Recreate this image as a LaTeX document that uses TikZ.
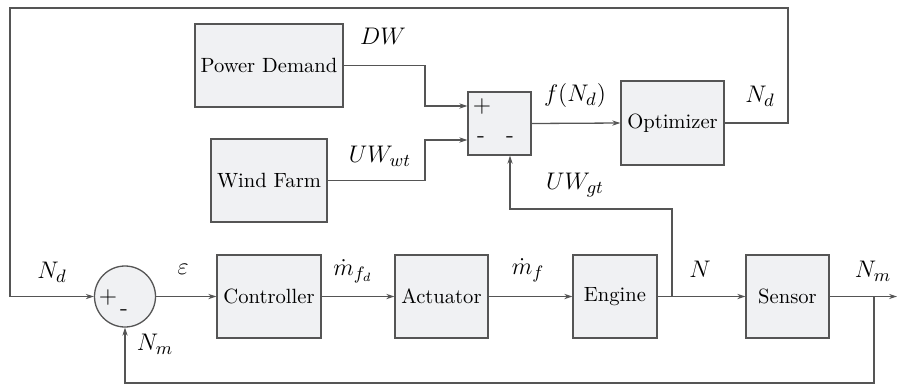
\documentclass[tikz,border=0pt]{standalone}
\usetikzlibrary{arrows.meta}
\definecolor{boxfill}{HTML}{F0F1F3}
\definecolor{linec}{HTML}{555555}
\begin{document}
\begin{tikzpicture}[x=0.5pt,y=-0.5pt,
  blk/.style={draw=linec,fill=boxfill,line width=0.65pt,inner sep=0pt,minimum height=41.5pt,font=\fontsize{10.3}{12}\selectfont},
  sumc/.style={draw=linec,fill=boxfill,line width=0.65pt,circle,inner sep=0pt,minimum size=30.5pt},
  wire/.style={draw=linec,line width=0.65pt},
  arr/.style={wire,-{Stealth[length=4pt,width=2.6pt]}},
  lbl/.style={inner sep=0pt,font=\fontsize{12.5}{14}\selectfont},
  sgn/.style={inner sep=0pt,font=\fontsize{12}{14}\selectfont}]
\useasboundingbox (0,0) rectangle (897,386);
% blocks
\node[blk,minimum width=74pt] (pd) at (269,65.5) {Power Demand};
\node[blk,minimum width=58pt] (wf) at (269,180.5) {Wind Farm};
\node[blk,minimum width=31.5pt,minimum height=31.5pt] (sum) at (499.5,123.5) {};
\node[blk,minimum width=51.5pt,minimum height=42pt] (opt) at (672.5,123) {Optimizer};
\node[sumc] (circ) at (125,296.5) {};
\node[blk,minimum width=52pt] (ctrl) at (269,296.5) {Controller};
\node[blk,minimum width=46.5pt] (act) at (441.5,296.5) {Actuator};
\node[blk,minimum width=42pt] (eng) at (615,296.5) {Engine};
\node[blk,minimum width=41.5pt] (sen) at (787.5,296.5) {Sensor};
% signs
\node[sgn] (sp) at (482,106) {$+$};
\node[sgn] (sm1) at (481,140) {-};
\node[sgn] (sm2) at (510,140) {-};
\node[sgn] (cp) at (108,297) {$+$};
\node[sgn] (cm) at (124,313) {-};
% coordinates
\coordinate (br) at (672,296.5);
\coordinate (fb) at (874,296.5);
\coordinate (out) at (897,296.5);
% connectors
\draw[arr] (pd.east) -- (425,65.5) |- ([yshift=8.75pt]sum.west);
\draw[arr] (wf.east) -- (425,180.5) |- ([yshift=-8.25pt]sum.west);
\draw[arr] (sum.east) -- (opt.west);
\draw[arr] (opt.east) -| (788,8) -| (10,296.5) -- (circ.west);
\draw[arr] (circ.east) -- (ctrl.west);
\draw[arr] (ctrl.east) -- (act.west);
\draw[arr] (act.east) -- (eng.west);
\draw[arr] (eng.east) -- (sen.west);
\draw[arr] (sen.east) -- (out);
\draw[arr] (br) -- (672,209) -| ([xshift=5.25pt]sum.south);
\draw[arr] (fb) -- (874,383) -| (circ.south);
% labels
\node[lbl] (lNd) at (52,272) {$N_d$};
\node[lbl] (leps) at (183,269) {$\varepsilon$};
\node[lbl] (lmfd) at (353,271) {$\dot m_{f_d}$};
\node[lbl] (lmf) at (528,270) {$\dot m_f$};
\node[lbl] (lN) at (700,269) {$N$};
\node[lbl] (lNm) at (873,271) {$N_m$};
\node[lbl] (lNm2) at (155,344) {$N_m$};
\node[lbl] (lDW) at (383,36) {$DW$};
\node[lbl] (lUWwt) at (380,156) {$UW_{wt}$};
\node[lbl] (lf) at (575,95) {$f(N_d)$};
\node[lbl] (lNd2) at (760,96) {$N_d$};
\node[lbl] (lUWgt) at (575,185) {$UW_{gt}$};
\end{tikzpicture}
\end{document}
